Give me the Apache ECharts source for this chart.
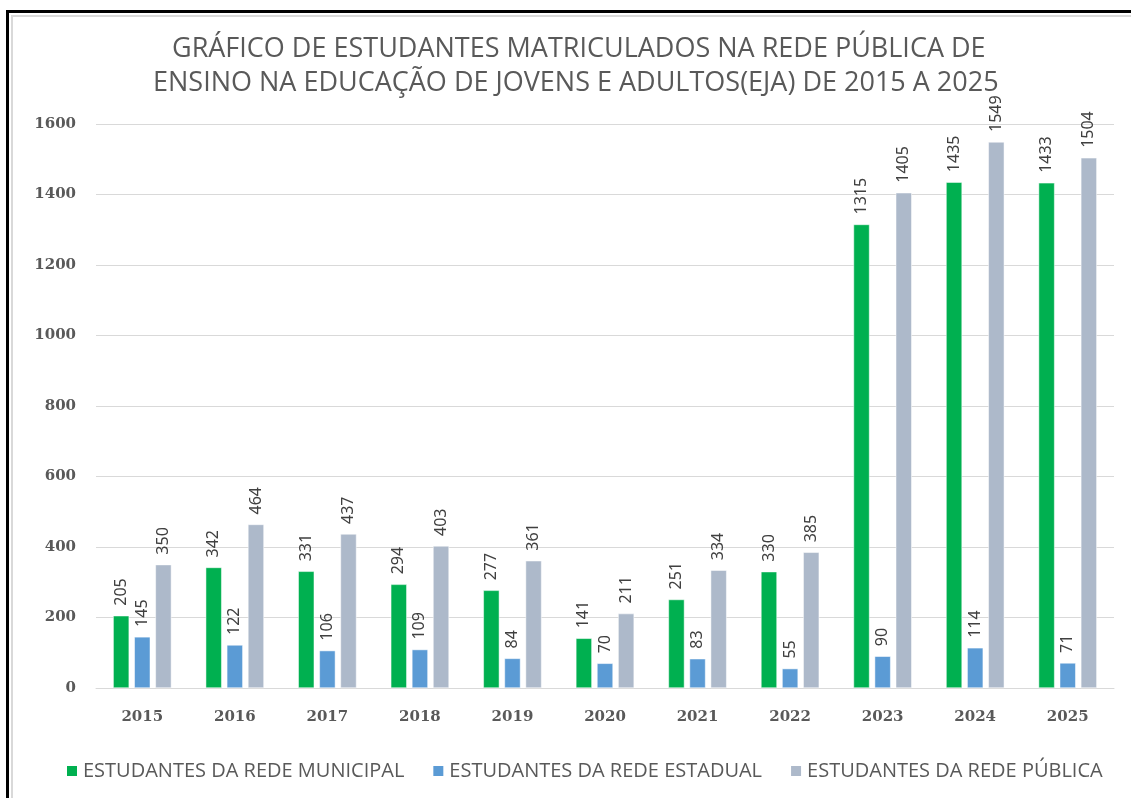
<!DOCTYPE html>
<html>
<head>
<meta charset="utf-8">
<script src="https://cdn.jsdelivr.net/npm/echarts@6/dist/echarts.min.js"></script>
<style>
    html, body { margin: 0; padding: 0; background: #fff; }
    #frame {
        position: absolute; left: 6px; top: 10px; width: 1140px; height: 800px;
        border-top: 3px solid #000; border-left: 3px solid #000;
    }
    #inner {
        position: absolute; left: 11px; top: 15px; width: 1140px; height: 800px;
        border-top: 2px solid #d9d9d9; border-left: 2px solid #d9d9d9;
    }
    #chart { position: absolute; left: 0; top: 0; width: 1131px; height: 798px; }
</style>
</head>
<body>
<div id="frame"></div>
<div id="inner"></div>
<div id="chart"></div>
<script>
    var anos = ['2015', '2016', '2017', '2018', '2019', '2020', '2021', '2022', '2023', '2024', '2025'];
    var municipal = [205, 342, 331, 294, 277, 141, 251, 330, 1315, 1435, 1433];
    var estadual = [145, 122, 106, 109, 84, 70, 83, 55, 90, 114, 71];
    var publica = [350, 464, 437, 403, 361, 211, 334, 385, 1405, 1549, 1504];
    var nomes = ['ESTUDANTES DA REDE MUNICIPAL', 'ESTUDANTES DA REDE ESTADUAL', 'ESTUDANTES DA REDE PÚBLICA'];
    var cores = ['#00B050', '#5B9BD5', '#ADB9CA'];
    var titulo = [
        'GRÁFICO DE ESTUDANTES MATRICULADOS NA REDE PÚBLICA DE',
        'ENSINO NA EDUCAÇÃO DE JOVENS E ADULTOS(EJA) DE 2015 A 2025'
    ];

    var myChart = echarts.init(document.getElementById('chart'));

    var rotulo = {
        show: true,
        position: 'top',
        rotate: 90,
        align: 'left',
        verticalAlign: 'middle',
        distance: 10,
        color: '#404040',
        fontFamily: 'Noto Sans',
        fontSize: 16
    };

    var estiloTitulo = {
        fontFamily: 'Open Sans',
        fontWeight: 'normal',
        fontSize: 27,
        lineHeight: 35,
        color: '#595959'
    };

    function serie(i, dados) {
        return {
            name: nomes[i],
            type: 'bar',
            data: dados,
            barWidth: 16,
            barGap: '32%',
            itemStyle: { color: cores[i], borderColor: '#ffffff', borderWidth: 0.5 },
            label: rotulo
        };
    }

    var option = {
        animation: false,
        title: [
            { text: titulo[0], left: 167, top: 27, textStyle: estiloTitulo },
            { text: titulo[1], left: 148, top: 61, textStyle: estiloTitulo }
        ],
        legend: {
            data: nomes,
            bottom: 12,
            left: 60,
            itemWidth: 12,
            itemHeight: 12,
            itemGap: 27,
            icon: 'rect',
            textStyle: { fontFamily: 'Open Sans', fontSize: 20, color: '#595959' }
        },
        grid: { left: 96, right: 17, top: 124, bottom: 110, containLabel: false },
        xAxis: {
            type: 'category',
            data: anos,
            axisLine: { show: true, lineStyle: { color: '#d9d9d9' } },
            axisTick: { show: false },
            axisLabel: {
                margin: 22,
                fontFamily: 'DejaVu Serif',
                fontWeight: 'bold',
                fontSize: 15,
                color: '#595959'
            }
        },
        yAxis: {
            type: 'value',
            min: 0,
            max: 1600,
            interval: 200,
            axisLine: { show: false },
            axisTick: { show: false },
            splitLine: { lineStyle: { color: '#d9d9d9' } },
            axisLabel: {
                margin: 20,
                formatter: function (value) {
                    return String(value);
                },
                fontFamily: 'DejaVu Serif',
                fontWeight: 'bold',
                fontSize: 15,
                color: '#595959'
            }
        },
        series: [
            serie(0, municipal),
            serie(1, estadual),
            serie(2, publica)
        ]
    };
    myChart.setOption(option);
</script>
</body>
</html>
